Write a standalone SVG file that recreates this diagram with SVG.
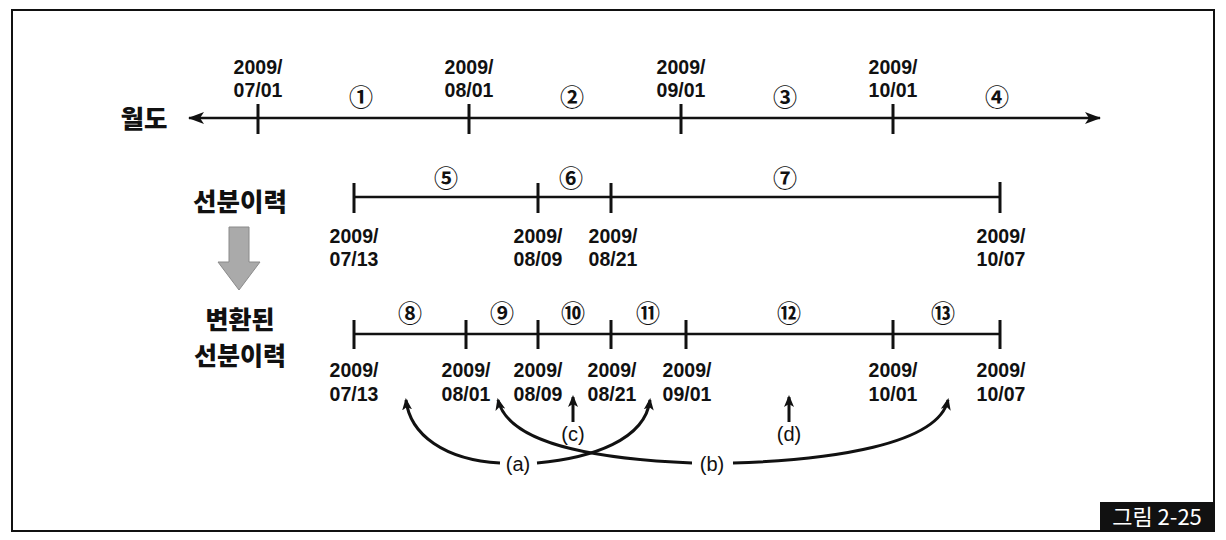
<svg xmlns="http://www.w3.org/2000/svg" width="1226" height="540" viewBox="0 0 1226 540">
<style>
.d{font-family:"Liberation Sans",Arial,sans-serif;font-weight:bold;font-size:19.5px;fill:#111;text-anchor:middle}
.c{font-family:"Noto Sans CJK KR","DejaVu Sans",sans-serif;font-weight:bold;font-size:24px;fill:#111;text-anchor:middle}
.k{font-family:"Noto Sans CJK KR",sans-serif;font-weight:900;font-size:25.5px;fill:#111;text-anchor:middle}
.k2{font-family:"Noto Sans CJK KR",sans-serif;font-weight:900;font-size:25px;fill:#111;text-anchor:middle}
.l{font-family:"Liberation Sans",Arial,sans-serif;font-size:20px;fill:#111;text-anchor:middle}
.ax{stroke:#111;stroke-width:2.5;fill:none}
.tk{stroke:#111;stroke-width:3}
.cv{stroke:#111;stroke-width:3;fill:none}
</style>
<defs>
<marker id="ah" viewBox="0 0 12 10" refX="10" refY="5" markerWidth="12" markerHeight="10" markerUnits="userSpaceOnUse" orient="auto">
<path d="M0,0 L12,5 L0,10 L3,5 Z" fill="#111"/>
</marker>
<marker id="axh" viewBox="0 0 16 12" refX="15" refY="6" markerWidth="16" markerHeight="12" markerUnits="userSpaceOnUse" orient="auto-start-reverse">
<path d="M0,0 L16,6 L0,12 L4,6 Z" fill="#111"/>
</marker>
</defs>
<rect x="0" y="0" width="1226" height="540" fill="#fff"/>
<rect id="frame" x="12" y="10" width="1202" height="521" fill="none" stroke="#111" stroke-width="2"/>

<g id="row-month">
<text class="k" x="144" y="128">월도</text>
<line class="ax" x1="189" y1="118" x2="1100" y2="118" marker-start="url(#axh)" marker-end="url(#axh)"/>
<line class="tk" x1="258" y1="104" x2="258" y2="134"/>
<line class="tk" x1="469" y1="104" x2="469" y2="134"/>
<line class="tk" x1="681" y1="104" x2="681" y2="134"/>
<line class="tk" x1="893" y1="104" x2="893" y2="134"/>
<text class="d" x="258" y="74">2009/</text><text class="d" x="258" y="97">07/01</text>
<text class="d" x="469" y="74">2009/</text><text class="d" x="469" y="97">08/01</text>
<text class="d" x="681" y="74">2009/</text><text class="d" x="681" y="97">09/01</text>
<text class="d" x="893" y="74">2009/</text><text class="d" x="893" y="97">10/01</text>
<text class="c" x="361" y="106">①</text>
<text class="c" x="572" y="106">②</text>
<text class="c" x="785" y="106">③</text>
<text class="c" x="997" y="106">④</text>
</g>

<g id="row-history">
<text class="k" x="240" y="211">선분이력</text>
<line class="ax" x1="354" y1="197" x2="1000" y2="197"/>
<line class="tk" x1="354" y1="183" x2="354" y2="213"/>
<line class="tk" x1="538" y1="183" x2="538" y2="213"/>
<line class="tk" x1="611" y1="183" x2="611" y2="213"/>
<line class="tk" x1="1000" y1="182" x2="1000" y2="213"/>
<text class="d" x="354" y="243">2009/</text><text class="d" x="354" y="266">07/13</text>
<text class="d" x="538" y="243">2009/</text><text class="d" x="538" y="266">08/09</text>
<text class="d" x="613" y="243">2009/</text><text class="d" x="613" y="266">08/21</text>
<text class="d" x="1001" y="243">2009/</text><text class="d" x="1001" y="266">10/07</text>
<text class="c" x="446" y="187">⑤</text>
<text class="c" x="571" y="187">⑥</text>
<text class="c" x="785" y="187">⑦</text>
</g>

<g id="transform-arrow">
<path d="M229,227 L249,227 L249,262 L260,262 L239,290 L218,262 L229,262 Z" fill="#aaa" stroke="#8a8a8a" stroke-width="1"/>
</g>

<g id="row-converted">
<text class="k2" x="240" y="329">변환된</text>
<text class="k2" x="240" y="365">선분이력</text>
<line class="ax" x1="354" y1="334" x2="1000" y2="334"/>
<line class="tk" x1="354" y1="320" x2="354" y2="349"/>
<line class="tk" x1="466" y1="320" x2="466" y2="349"/>
<line class="tk" x1="538" y1="320" x2="538" y2="349"/>
<line class="tk" x1="611" y1="320" x2="611" y2="349"/>
<line class="tk" x1="686" y1="320" x2="686" y2="349"/>
<line class="tk" x1="893" y1="320" x2="893" y2="349"/>
<line class="tk" x1="1000" y1="320" x2="1000" y2="349"/>
<text class="d" x="354" y="377">2009/</text><text class="d" x="354" y="401">07/13</text>
<text class="d" x="466" y="377">2009/</text><text class="d" x="466" y="401">08/01</text>
<text class="d" x="538" y="377">2009/</text><text class="d" x="538" y="401">08/09</text>
<text class="d" x="612" y="377">2009/</text><text class="d" x="612" y="401">08/21</text>
<text class="d" x="687" y="377">2009/</text><text class="d" x="687" y="401">09/01</text>
<text class="d" x="893" y="377">2009/</text><text class="d" x="893" y="401">10/01</text>
<text class="d" x="1001" y="377">2009/</text><text class="d" x="1001" y="401">10/07</text>
<text class="c" x="410" y="322">⑧</text>
<text class="c" x="502" y="322">⑨</text>
<text class="c" x="573" y="322">⑩</text>
<text class="c" x="648" y="322">⑪</text>
<text class="c" x="789" y="322">⑫</text>
<text class="c" x="943" y="322">⑬</text>
</g>

<g id="connectors">
<path class="cv" d="M500,463 C445,460 410,435 406,400" marker-end="url(#ah)"/>
<path class="cv" d="M537,463 C592,458 645,440 650,400" marker-end="url(#ah)"/>
<path class="cv" d="M692,463 C620,460 510,450 498,400" marker-end="url(#ah)"/>
<path class="cv" d="M733,463 C830,460 938,445 948,400" marker-end="url(#ah)"/>
<line class="cv" x1="573" y1="422" x2="573" y2="397" marker-end="url(#ah)"/>
<line class="cv" x1="789" y1="422" x2="789" y2="397" marker-end="url(#ah)"/>
</g>

<g id="labels-abcd">
<text class="l" x="518" y="471">(a)</text>
<text class="l" x="712" y="471">(b)</text>
<text class="l" x="573" y="441">(c)</text>
<text class="l" x="789" y="441">(d)</text>
</g>

<g id="badge">
<rect x="1100" y="502" width="113" height="29" fill="#111"/>
<text x="1157" y="525" font-family="'Noto Sans CJK KR',sans-serif" font-size="22" fill="#fff" text-anchor="middle">그림 2-25</text>
</g>
</svg>
